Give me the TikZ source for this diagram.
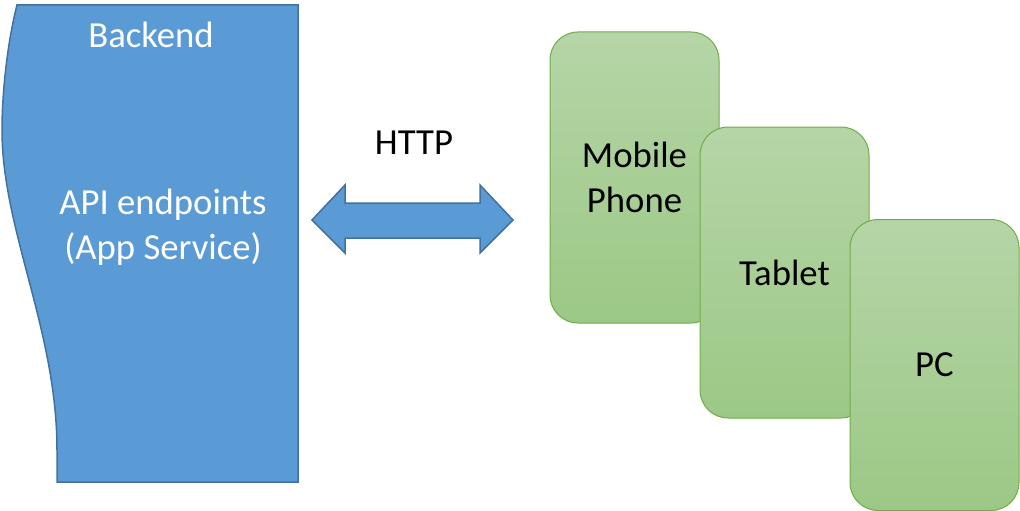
\documentclass[tikz,border=0pt]{standalone}
\usepackage{fontspec}
\setmainfont{Carlito}
\definecolor{bfill}{HTML}{5B9BD5}
\definecolor{bline}{HTML}{41719C}
\definecolor{gtop}{HTML}{B5D5A7}
\definecolor{gbot}{HTML}{9CC886}
\definecolor{gline}{HTML}{70AD47}
\begin{document}
\begin{tikzpicture}[x=1pt,y=-1pt,
  txt/.style={font=\fontsize{36.7}{45}\selectfont, inner sep=0pt, align=center},
  wtxt/.style={txt, text=white},
  device/.style={txt, draw=gline, line width=1pt, rounded corners=28pt,
    top color=gtop, bottom color=gbot, minimum width=169pt, minimum height=291pt},
  blueshape/.style={fill=bfill, draw=bline, line width=1.5pt, line join=miter}]
\useasboundingbox (0,0) rectangle (1020,511);
% backend
\draw[blueshape] (17,5) .. controls (8,40) and (2,90) .. (2,130)
  .. controls (2,230) and (57,330) .. (57,450) -- (57,482) -- (298,482) -- (298,5) -- cycle;
\node[wtxt, anchor=base] (backend) at (151,48) {Backend};
\node[wtxt] (api) at (163,227) {API endpoints\\(App Service)};
% arrow
\draw[blueshape] (312,220) -- (345,185) -- (345,203) -- (480,203) -- (480,185) -- (513,220)
  -- (480,253) -- (480,238) -- (345,238) -- (345,253) -- cycle;
\node[txt, anchor=base] (http) at (414,154) {HTTP};
% devices
\node[device] (mobile) at (634.5,177.5) {Mobile\\Phone};
\node[device] (tablet) at (784.5,272.5) {Tablet};
\node[device] (pc) at (934.5,365) {PC};
\end{tikzpicture}
\end{document}
